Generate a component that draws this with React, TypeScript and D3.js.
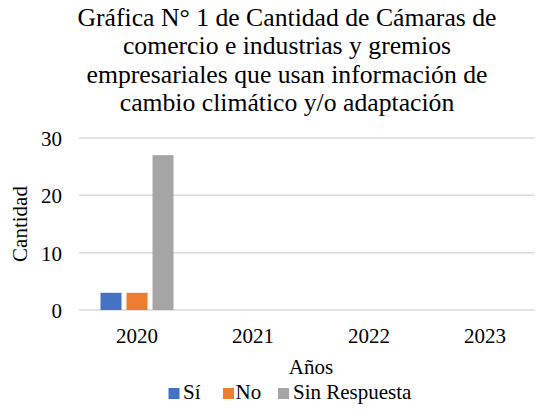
import React from "react";
import * as d3 from "d3";

const categories = ["2020", "2021", "2022", "2023"];
const seriesNames = ["Sí", "No", "Sin Respuesta"];
const siValues = [3, 0, 0, 0];
const noValues = [3, 0, 0, 0];
const sinRespuestaValues = [27, 0, 0, 0];
const yTicks = [0, 10, 20, 30];
const titleLines = [
  "Gráfica N° 1 de Cantidad de Cámaras de",
  "comercio e industrias y gremios",
  "empresariales que usan información de",
  "cambio climático y/o adaptación",
];
const colors = ["#4472C4", "#ED7D31", "#A5A5A5"];

const W = 543;
const H = 413;
const FONT = "Liberation Serif";
const ts: React.CSSProperties = { fontFamily: FONT };

export default function App() {
  const series = [siValues, noValues, sinRespuestaValues];
  const x = d3.scaleBand<string>().domain(categories).range([79, 543]).paddingInner(0).paddingOuter(0);
  const y = d3.scaleLinear().domain([0, 30]).range([310, 138]);
  const barW = 21;
  const gap = 5;
  const groupW = barW * 3 + gap * 2;
  const legend = [
    { sx: 168.5, tx: 183 },
    { sx: 223, tx: 235.5 },
    { sx: 278, tx: 293 },
  ];

  return (
    <div style={{ margin: -8 }}>
      <svg width={W} height={H} style={{ display: "block" }}>
        {titleLines.map((t, i) => (
          <text key={i} x={287} y={25.5 + i * 28.6} textAnchor="middle" fontSize={25.7} style={ts}>
            {t}
          </text>
        ))}
        {yTicks.map((t) => (
          <line key={"g" + t} x1={79} x2={543} y1={y(t)} y2={y(t)} stroke="#d9d9d9" strokeWidth={1.5} />
        ))}
        {yTicks.map((t) => (
          <text key={"t" + t} x={62} y={y(t) + 8} textAnchor="end" fontSize={21} style={ts}>
            {t}
          </text>
        ))}
        {categories.map((c, ci) => {
          const cx = (x(c) as number) + x.bandwidth() / 2;
          return series.map((s, si) => {
            const v = s[ci];
            if (v <= 0) return null;
            const bx = cx - groupW / 2 + si * (barW + gap);
            return <rect key={c + si} x={bx} y={y(v)} width={barW} height={y(0) - y(v)} fill={colors[si]} />;
          });
        })}
        {categories.map((c) => {
          const cx = (x(c) as number) + x.bandwidth() / 2;
          return (
            <text key={"l" + c} x={cx} y={343} textAnchor="middle" fontSize={21} style={ts}>
              {c}
            </text>
          );
        })}
        <text x={311} y={374} textAnchor="middle" fontSize={21} style={ts}>
          Años
        </text>
        <text transform={`translate(27,224) rotate(-90)`} textAnchor="middle" fontSize={21} style={ts}>
          Cantidad
        </text>
        {seriesNames.map((n, i) => (
          <g key={n}>
            <rect x={legend[i].sx} y={388} width={11} height={11} fill={colors[i]} />
            <text x={legend[i].tx} y={399} fontSize={21} style={ts}>
              {n}
            </text>
          </g>
        ))}
      </svg>
    </div>
  );
}
